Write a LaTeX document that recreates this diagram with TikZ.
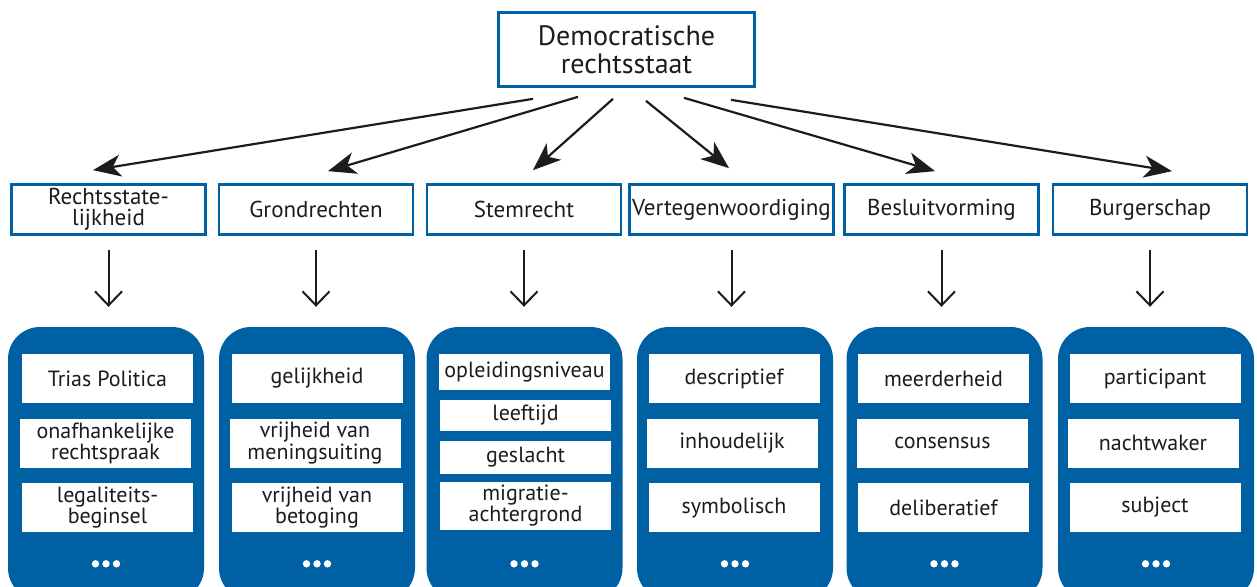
\documentclass[tikz,border=0pt]{standalone}
\usepackage{fontspec}
\setmainfont{PT Sans}
\usetikzlibrary{arrows.meta,calc}
\definecolor{rsblue}{RGB}{0,96,164}
\definecolor{rstext}{RGB}{30,27,28}
\tikzset{
  hoofd/.style={draw=rsblue, line width=2.7pt, minimum width=256pt, minimum height=74pt,
    align=center, text=rstext, inner sep=0pt, font=\fontsize{28}{28}\selectfont},
  kop/.style={draw=rsblue, line width=2.7pt, minimum width=194pt, minimum height=50pt,
    align=center, text=rstext, inner sep=0pt, font=\fontsize{23}{21}\selectfont},
  paneel/.style={fill=rsblue, rounded corners=32pt, minimum width=196pt, minimum height=273pt, inner sep=0pt},
  item/.style={fill=white, minimum width=171pt, minimum height=49pt, align=center,
    text=rstext, inner sep=0pt, font=\fontsize{22}{19.5}\selectfont},
  schuin/.style={-{Stealth[length=28pt,width=22pt,inset=8pt]}, line width=2.2pt, rstext},
  omlaag/.style={-{Straight Barb[length=14pt,width=27pt]}, line width=2pt, rstext},
}
\begin{document}
\begin{tikzpicture}[x=1pt,y=-1pt]
  \useasboundingbox (0,0) rectangle (1257,586);
  \clip (0,0) rectangle (1257,586);

  % top
  \node[hoofd] (top) at (626.5,49.5) {Democratische\\rechtsstaat};

  % second row
  \node[kop] (r1) at (108.5,209.5) {Rechtsstate-\\lijkheid};
  \node[kop] (r2) at (316,209.5) {Grondrechten};
  \node[kop] (r3) at (524,209.5) {Stemrecht};
  \node[kop, minimum width=204pt] (r4) at (731.5,209.5) {Vertegenwoordiging};
  \node[kop] (r5) at (941.5,209.5) {Besluitvorming};
  \node[kop] (r6) at (1150,209.5) {Burgerschap};

  \draw[schuin] ($(top.south)+(-93.5,11)$) -- ($(r1.north)+(-15.5,-13)$);
  \draw[schuin] ($(top.south)+(-48.5,9)$) -- ($(r2.north)+(12,-12)$);
  \draw[schuin] ($(top.south)+(-13.5,11)$) -- ($(r3.north)+(9,-13)$);
  \draw[schuin] ($(top.south)+(19.5,13)$) -- ($(r4.north)+(-2.5,-15)$);
  \draw[schuin] ($(top.south)+(57.5,10)$) -- ($(r5.north)+(-6.5,-12)$);
  \draw[schuin] ($(top.south)+(104.5,12)$) -- ($(r6.north)+(22,-12)$);

  % panels
  \node[paneel] (p1) at (106,463.5) {};
  \node[paneel] (p2) at (317,463.5) {};
  \node[paneel] (p3) at (524.5,463.5) {};
  \node[paneel] (p4) at (735,463.5) {};
  \node[paneel] (p5) at (944.5,463.5) {};
  \node[paneel] (p6) at (1156,463.5) {};

  \foreach \i in {1,...,6}{
    \draw[omlaag] ($(r\i.south)+(0,14)$) -- ($(r\i.south |- p\i.north)+(0,-20)$);
    \foreach \d in {-10.5,0,10.5}
      \fill[white] ($(p\i.north)+(\d,237)$) circle (3.7);
  }

  \node[item] (t1a) at (107.5,378.5) {Trias Politica};
  \node[item] (t1b) at (105.5,443) {onafhankelijke\\rechtspraak};
  \node[item] (t1c) at (107.5,507.5) {legaliteits-\\beginsel};

  \node[item] (t2a) at (317,378.5) {gelijkheid};
  \node[item] (t2b) at (315,443) {vrijheid van\\meningsuiting};
  \node[item] (t2c) at (317,507.5) {vrijheid van\\betoging};

  \node[item, minimum height=36pt] (t3a) at (524.5,372) {opleidingsniveau};
  \node[item, minimum height=31pt] (t3b) at (525.5,415.5) {leeftijd};
  \node[item, minimum height=33pt] (t3c) at (525.5,457.5) {geslacht};
  \node[item, minimum height=48pt] (t3d) at (525.5,506) {migratie-\\achtergrond};

  \node[item] (t4a) at (734,378.5) {descriptief};
  \node[item] (t4b) at (732,443) {inhoudelijk};
  \node[item] (t4c) at (734,507.5) {symbolisch};

  \node[item] (t5a) at (943.5,378.5) {meerderheid};
  \node[item] (t5b) at (942.5,443) {consensus};
  \node[item] (t5c) at (943.5,507.5) {deliberatief};

  \node[item] (t6a) at (1155,378.5) {participant};
  \node[item] (t6b) at (1153,443) {nachtwaker};
  \node[item] (t6c) at (1155,507.5) {subject};
\end{tikzpicture}
\end{document}
